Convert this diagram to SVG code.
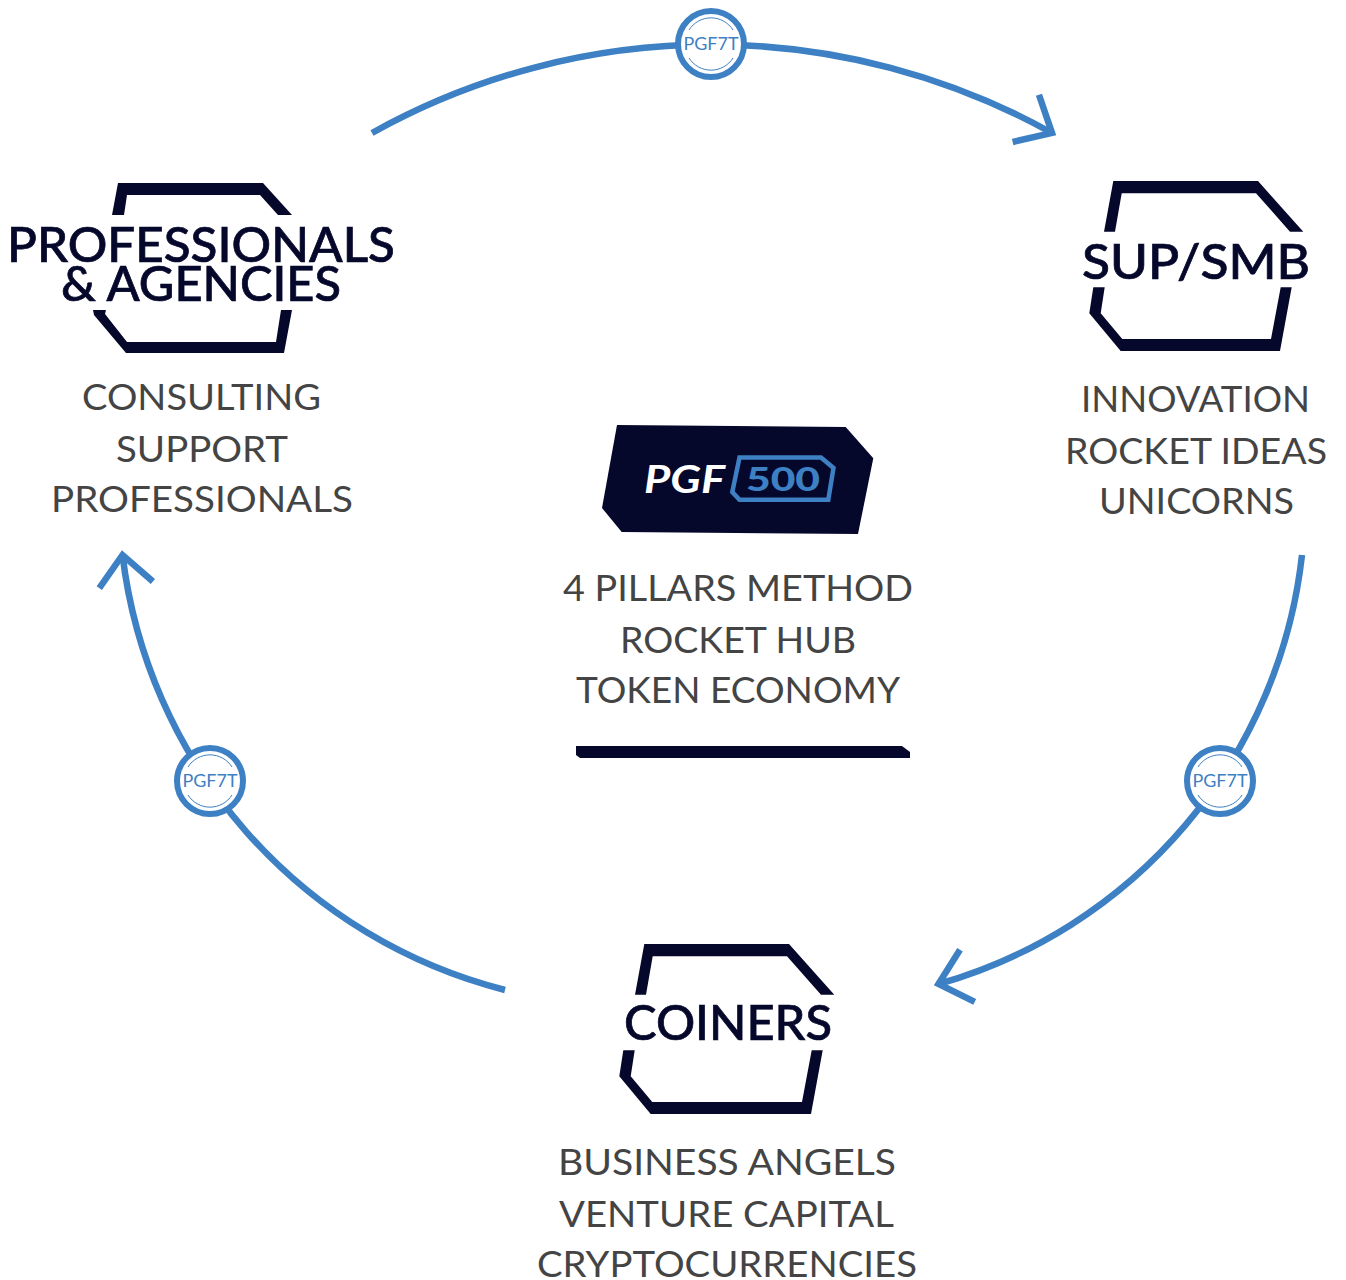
<svg xmlns="http://www.w3.org/2000/svg" width="1346" height="1280" viewBox="0 0 1346 1280">
<style>
.ln{fill:none;stroke:#3d80c4;stroke-width:6.5}
.dk{fill:#05082b}
.h{font-family:Lato,"Liberation Sans",sans-serif;font-size:48px;font-weight:500;fill:#05082b;stroke:#05082b;stroke-width:.7}
.t{font-family:Lato,"Liberation Sans",sans-serif;font-size:36px;font-weight:400;fill:#444444}
.bc{fill:#fff;stroke:#3d80c4;stroke-width:6}
.bi{fill:none;stroke:#3d80c4;stroke-width:1}
.bt{font-family:Lato,"Liberation Sans",sans-serif;font-size:17px;fill:#3d80c4;text-anchor:middle}
</style>
<defs>
<marker id="ah" markerUnits="userSpaceOnUse" markerWidth="80" markerHeight="80" refX="0" refY="0" orient="auto" overflow="visible">
<path d="M-30,-27 L0,0 L-30,27" fill="none" stroke="#3d80c4" stroke-width="6.5" stroke-miterlimit="10"/>
</marker>
</defs>
<rect width="1346" height="1280" fill="#fff"/>
<g id="connectors">
<path class="ln" marker-end="url(#ah)" d="M372,133 A698,698 0 0 1 1052,133"/>
<path class="ln" marker-end="url(#ah)" d="M1302,555 A504,504 0 0 1 938.5,984"/>
<path class="ln" marker-end="url(#ah)" d="M505,990 A512,512 0 0 1 122.5,555"/>
</g>
<g id="badge-top" transform="translate(711,44)">
<circle class="bc" r="33"/><path class="bi" d="M-22,-14 A26,26 0 0 1 22,-14 M-22,14 A26,26 0 0 0 22,14"/>
<text class="bt" y="6" textLength="55" lengthAdjust="spacingAndGlyphs">PGF7T</text>
</g>
<g id="badge-right" transform="translate(1220,781)">
<circle class="bc" r="33"/><path class="bi" d="M-22,-14 A26,26 0 0 1 22,-14 M-22,14 A26,26 0 0 0 22,14"/>
<text class="bt" y="6" textLength="55" lengthAdjust="spacingAndGlyphs">PGF7T</text>
</g>
<g id="badge-left" transform="translate(210,781)">
<circle class="bc" r="33"/><path class="bi" d="M-22,-14 A26,26 0 0 1 22,-14 M-22,14 A26,26 0 0 0 22,14"/>
<text class="bt" y="6" textLength="55" lengthAdjust="spacingAndGlyphs">PGF7T</text>
</g>
<g id="node-professionals">
<path class="dk" d="M118,183 L263,183 L292,215 L278,215 L260,195 L127,195 L124,215 L112,215 Z"/>
<path class="dk" d="M93,310 L106,310 L105,314 L127,342 L276,342 L281,310 L292,310 L284,353 L126,353 L94,315 Z"/>
<text class="h" x="7" y="262" textLength="388" lengthAdjust="spacingAndGlyphs">PROFESSIONALS</text>
<text class="h" x="61" y="301" textLength="280" lengthAdjust="spacingAndGlyphs">&amp; AGENCIES</text>
<text class="t" x="82" y="410" textLength="239" lengthAdjust="spacingAndGlyphs">CONSULTING</text>
<text class="t" x="116" y="462" textLength="172" lengthAdjust="spacingAndGlyphs">SUPPORT</text>
<text class="t" x="51" y="512" textLength="302" lengthAdjust="spacingAndGlyphs">PROFESSIONALS</text>
</g>
<g id="node-sup-smb">
<path class="dk" d="M1113.3,181 L1258,181 L1303.3,231.7 L1290,231.7 L1256,193.3 L1121.7,193.3 L1115,231.7 L1104,231.7 Z"/>
<path class="dk" d="M1093.3,287.3 L1104.7,287.3 L1100.7,313.3 L1122.3,339 L1271,339 L1280.7,287.3 L1291.7,287.3 L1280,351 L1120.7,351 L1089.3,313.3 Z"/>
<text class="h" x="1082" y="279" textLength="228" lengthAdjust="spacingAndGlyphs">SUP/SMB</text>
<text class="t" x="1081" y="412" textLength="229" lengthAdjust="spacingAndGlyphs">INNOVATION</text>
<text class="t" x="1065" y="464" textLength="262" lengthAdjust="spacingAndGlyphs">ROCKET IDEAS</text>
<text class="t" x="1099" y="514" textLength="195" lengthAdjust="spacingAndGlyphs">UNICORNS</text>
</g>
<g id="node-coiners">
<path class="dk" d="M644.3,944 L789,944 L834.3,994.7 L821,994.7 L787,956.3 L652.7,956.3 L646,994.7 L635,994.7 Z"/>
<path class="dk" d="M623.3,1050.3 L634.7,1050.3 L630.7,1076.3 L652.3,1102 L802,1102 L811.7,1050.3 L822.7,1050.3 L811,1114 L650.7,1114 L619.3,1076.3 Z"/>
<text class="h" x="624" y="1040" textLength="208" lengthAdjust="spacingAndGlyphs">COINERS</text>
<text class="t" x="558" y="1175" textLength="338" lengthAdjust="spacingAndGlyphs">BUSINESS ANGELS</text>
<text class="t" x="559" y="1227" textLength="335" lengthAdjust="spacingAndGlyphs">VENTURE CAPITAL</text>
<text class="t" x="537" y="1277" textLength="380" lengthAdjust="spacingAndGlyphs">CRYPTOCURRENCIES</text>
</g>
<g id="node-center">
<path class="dk" d="M617,425 L845.7,427 L873.3,458.3 L858,534 L621.7,532 L602,508 Z"/>
<text x="644" y="493" font-family="Lato,'Liberation Sans',sans-serif" font-size="39" font-weight="700" font-style="italic" fill="#fff" textLength="81" lengthAdjust="spacingAndGlyphs">PGF</text>
<path d="M739.5,457.5 L821,457.5 L833.5,468 L828.3,499.7 L739.5,499.7 L732.3,492 Z" fill="none" stroke="#3d80c4" stroke-width="4.5"/>
<text x="746" y="491" font-family="Lato,'Liberation Sans',sans-serif" font-size="32" font-weight="900" fill="#3d80c4" textLength="74" lengthAdjust="spacingAndGlyphs">500</text>
<text class="t" x="563" y="601" textLength="350" lengthAdjust="spacingAndGlyphs">4 PILLARS METHOD</text>
<text class="t" x="620" y="653" textLength="236" lengthAdjust="spacingAndGlyphs">ROCKET HUB</text>
<text class="t" x="576" y="703" textLength="324" lengthAdjust="spacingAndGlyphs">TOKEN ECONOMY</text>
<path class="dk" d="M576,746 L902,746 L910,752 L910,758 L580,758 L576,755 Z"/>
</g>
</svg>
